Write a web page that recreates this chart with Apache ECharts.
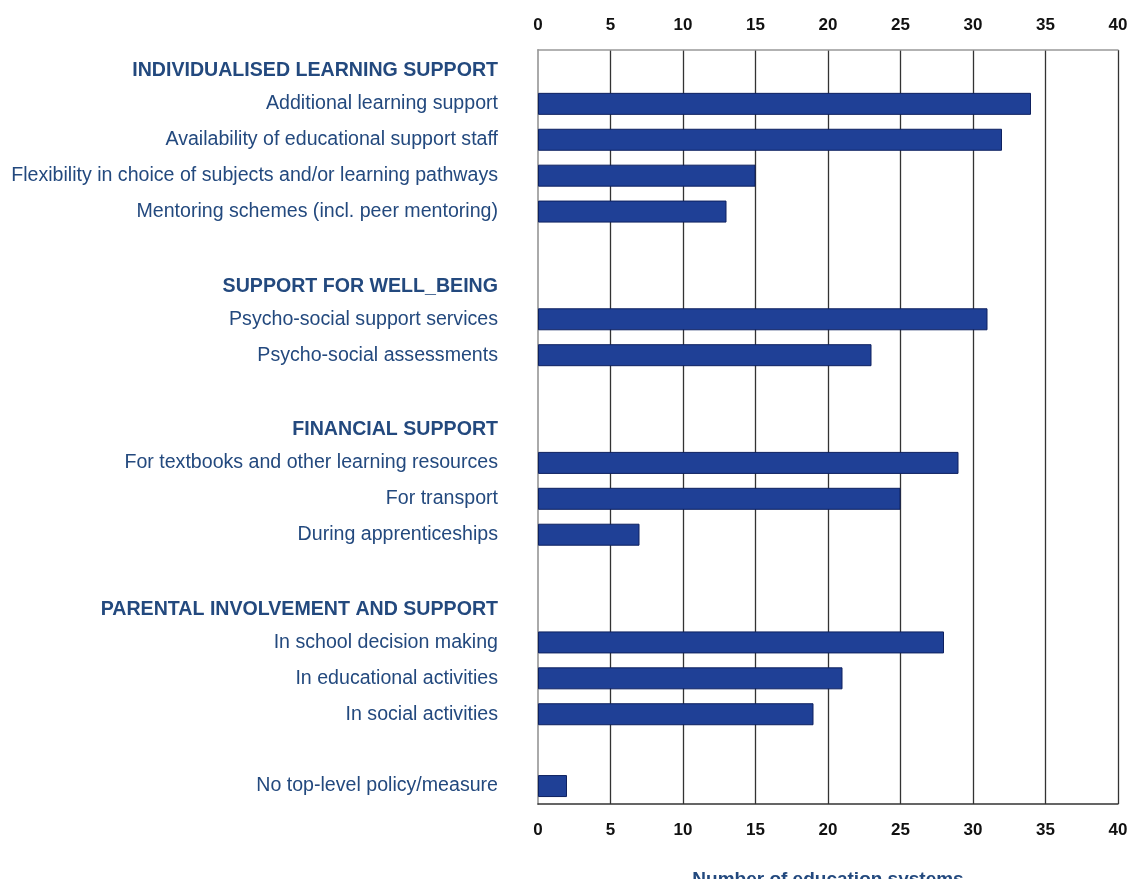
<!DOCTYPE html>
<html>
<head>
<meta charset="utf-8">
<script src="https://cdn.jsdelivr.net/npm/echarts@6/dist/echarts.min.js"></script>
<style>html,body{margin:0;padding:0;background:#fff}#c{width:1130px;height:879px}</style>
</head>
<body>
<div id="c"></div>
<script>
const categories = [
  'INDIVIDUALISED LEARNING SUPPORT',
  'Additional learning support',
  'Availability of educational support staff',
  'Flexibility in choice of subjects and/or learning pathways',
  'Mentoring schemes (incl. peer mentoring)',
  ' ',
  'SUPPORT FOR WELL_BEING',
  'Psycho-social support services',
  'Psycho-social assessments',
  '  ',
  'FINANCIAL SUPPORT',
  'For textbooks and other learning resources',
  'For transport',
  'During apprenticeships',
  '   ',
  'PARENTAL INVOLVEMENT AND SUPPORT',
  'In school decision making',
  'In educational activities',
  'In social activities',
  '    ',
  'No top-level policy/measure'
];
const values = [null, 34, 32, 15, 13, null, null, 31, 23, null, null, 29, 25, 7, null, null, 28, 21, 19, null, 2];
const headers = ['INDIVIDUALISED LEARNING SUPPORT', 'SUPPORT FOR WELL_BEING', 'FINANCIAL SUPPORT', 'PARENTAL INVOLVEMENT AND SUPPORT'];
const xTicks = [0, 5, 10, 15, 20, 25, 30, 35, 40];
const axisTitle = 'Number of education systems';

const FONT = "'Liberation Sans Narrow', 'Arial Narrow', 'Liberation Sans', sans-serif";
const TXT = '#23497e';
const chart = echarts.init(document.getElementById('c'), null, {renderer: 'canvas'});
const tickLabel = {fontFamily: FONT, fontWeight: 'bold', fontSize: 17, color: '#111'};
chart.setOption({
  animation: false,
  grid: {left: 538, right: 12, top: 50, bottom: 75, containLabel: false, outerBoundsMode: 'none'},
  xAxis: [
    {
      type: 'value', position: 'bottom', min: xTicks[0], max: xTicks[xTicks.length - 1], interval: 5,
      axisLine: {show: true, lineStyle: {color: '#333', width: 1.5}},
      axisTick: {show: false},
      axisLabel: Object.assign({margin: 18}, tickLabel),
      splitLine: {show: true, showMinLine: false, lineStyle: {color: '#333', width: 1.3}},
      name: axisTitle, nameLocation: 'middle', nameGap: 66,
      nameTextStyle: {fontFamily: FONT, fontWeight: 'bold', fontSize: 19, color: TXT}
    },
    {
      type: 'value', position: 'top', min: xTicks[0], max: xTicks[xTicks.length - 1], interval: 5,
      axisLine: {show: true, lineStyle: {color: '#999', width: 1.5}},
      axisTick: {show: false},
      axisLabel: Object.assign({margin: 16}, tickLabel),
      splitLine: {show: false}
    }
  ],
  yAxis: {
    type: 'category', inverse: true, data: categories,
    axisLine: {show: true, lineStyle: {color: '#aaa', width: 2}},
    axisTick: {show: false},
    axisLabel: {
      margin: 40, fontFamily: FONT, fontSize: 19.6, color: TXT,
      formatter: function (v) {
        if (headers.indexOf(v) >= 0) return '{h|' + v + '}';
        return v.trim();
      },
      rich: {h: {fontFamily: FONT, fontSize: 19.6, fontWeight: 'bold', color: TXT, padding: [6, 0, 0, 0]}}
    }
  },
  series: [{
    type: 'bar', xAxisIndex: 0, data: values, barWidth: 22,
    itemStyle: {color: '#1f4096', borderColor: '#0e2160', borderWidth: 1}
  }]
});
</script>
</body>
</html>
